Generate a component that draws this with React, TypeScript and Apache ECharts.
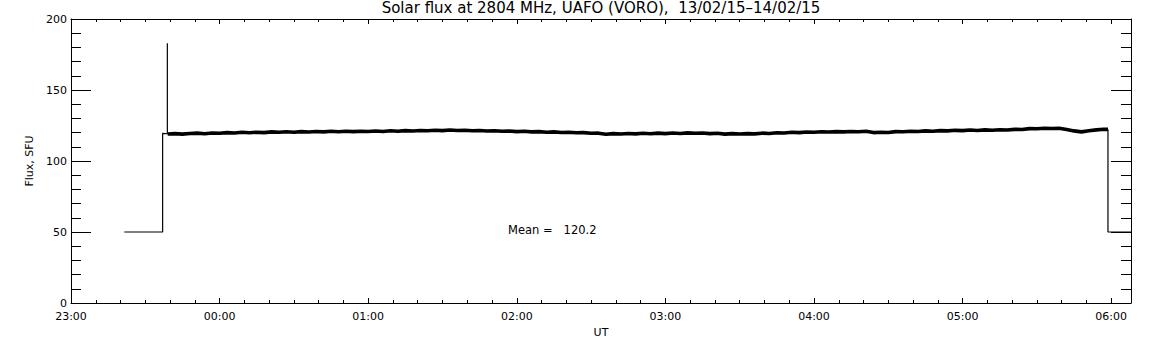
import React, { useEffect, useRef } from "react";
import * as echarts from "echarts";

const titleText = "Solar flux at 2804 MHz, UAFO (VORO),  13/02/15\u201314/02/15";
const meanText = "Mean =   120.2";
const xName = "UT";
const yName = "Flux, SFU";

// minutes after 23:00
const xMin = 0;
const xMax = 428;
const xMajorStep = 60;
const xMinorStep = 10;
const yTicks = [0, 50, 100, 150, 200];
const yMinorStep = 10;

// pre-signal baseline, jump and spike: [minute, SFU]
const leadTrace: [number, number][] = [
  [21.5, 50], [37, 50], [37, 119.5], [38.9, 119.2], [38.9, 183], [38.9, 119.0],
];

const signalTimes = [
  39, 42, 45, 48, 51, 54, 57, 60, 63, 66, 69, 72, 75, 78, 81, 84, 87, 90, 93, 96,
  99, 102, 105, 108, 111, 114, 117, 120, 123, 126, 129, 132, 135, 138, 141, 144, 147, 150, 153, 156,
  159, 162, 165, 168, 171, 174, 177, 180, 183, 186, 189, 192, 195, 198, 201, 204, 207, 210, 213, 216,
  219, 222, 225, 228, 231, 234, 237, 240, 243, 246, 249, 252, 255, 258, 261, 264, 267, 270, 273, 276,
  279, 282, 285, 288, 291, 294, 297, 300, 303, 306, 309, 312, 315, 318, 321, 324, 327, 330, 333, 336,
  339, 342, 345, 348, 351, 354, 357, 360, 363, 366, 369, 372, 375, 378, 381, 384, 387, 390, 393, 396,
  399, 402, 405, 408, 411, 414, 417, 418.7,
];
const signalValues = [
  119.0, 119.3, 118.9, 119.4, 119.6, 119.2, 119.7, 119.5, 120.0, 119.7, 120.2, 119.9, 120.3, 120.0, 120.5, 120.2, 120.6, 120.3, 120.7, 120.4,
  120.8, 120.5, 120.9, 120.6, 121.0, 120.7, 121.0, 120.8, 121.1, 120.8, 121.3, 121.0, 121.4, 121.1, 121.5, 121.3, 121.7, 121.4, 121.8, 121.5,
  121.7, 121.3, 121.5, 121.1, 121.3, 120.9, 121.1, 120.7, 120.9, 120.5, 120.7, 120.3, 120.5, 120.1, 120.3, 119.9, 120.0, 119.5, 119.6, 118.8,
  119.3, 119.0, 119.4, 119.1, 119.5, 119.2, 119.6, 119.3, 119.7, 119.4, 119.8, 119.5, 119.7, 119.3, 119.5, 118.9, 119.3, 119.0, 119.3, 119.1,
  119.6, 119.4, 119.9, 119.7, 120.2, 120.0, 120.4, 120.2, 120.6, 120.4, 120.7, 120.5, 120.8, 120.6, 120.9, 120.0, 120.3, 120.1, 120.7, 120.6,
  121.0, 120.8, 121.2, 121.0, 121.4, 121.2, 121.6, 121.4, 121.8, 121.5, 121.9, 121.7, 122.0, 121.8, 122.3, 122.2, 122.8, 122.7, 123.1, 122.9,
  123.1, 122.2, 121.2, 120.5, 121.3, 121.9, 122.4, 122.3,
];

const tailTrace: [number, number][] = [
  [418.7, 122.3], [418.7, 50], [428, 50],
];

const FONT = "DejaVu Sans";

function fmtTime(v: number): string {
  const total = (23 * 60 + v) % 1440;
  const h = Math.floor(total / 60);
  const m = Math.round(total % 60);
  return String(h).padStart(2, "0") + ":" + String(m).padStart(2, "0");
}

export default function App() {
  const ref = useRef<HTMLDivElement>(null);
  useEffect(() => {
    if (!ref.current) return;
    const chart = echarts.init(ref.current, null, { renderer: "svg" });
    const signal = signalTimes.map((t, i) => [t, signalValues[i]]);
    const black = { color: "#000", width: 1 };
    const xBase = {
      type: "value",
      min: xMin,
      max: xMax,
      splitLine: { show: false },
      axisLabel: { show: false },
    };
    const yBase = {
      type: "value",
      min: yTicks[0],
      max: yTicks[yTicks.length - 1],
      splitLine: { show: false },
      axisLabel: { show: false },
    };
    const xMajor = {
      ...xBase,
      interval: xMajorStep,
      axisLine: { show: true, onZero: false, lineStyle: black },
      axisTick: { show: true, inside: true, length: 5, lineStyle: black },
    };
    const xMinor = {
      ...xBase,
      interval: xMinorStep,
      axisLine: { show: false, onZero: false },
      axisTick: { show: true, inside: true, length: 3, lineStyle: black },
    };
    const yMajor = {
      ...yBase,
      interval: 50,
      axisLine: { show: true, onZero: false, lineStyle: black },
      axisTick: { show: true, inside: true, length: 20, lineStyle: black },
    };
    const yMinor = {
      ...yBase,
      interval: yMinorStep,
      axisLine: { show: false, onZero: false },
      axisTick: { show: true, inside: true, length: 10, lineStyle: black },
    };
    chart.setOption({
      animation: false,
      backgroundColor: "#fff",
      title: {
        text: titleText,
        left: 601,
        textAlign: "center",
        top: 0,
        padding: 0,
        textStyle: { fontFamily: FONT, fontSize: 15, fontWeight: "normal", color: "#000" },
      },
      grid: { left: 71, right: 21, top: 19, bottom: 42 },
      xAxis: [
        {
          ...xMajor,
          position: "bottom",
          name: xName,
          nameLocation: "middle",
          nameGap: 22,
          nameTextStyle: { fontFamily: FONT, fontSize: 11, color: "#000" },
          axisLabel: {
            show: true,
            formatter: (v: number) => fmtTime(v),
            fontFamily: FONT,
            fontSize: 11,
            color: "#000",
            margin: 8,
            showMaxLabel: false,
          },
        },
        { ...xMajor, position: "top" },
        { ...xMinor, position: "bottom" },
        { ...xMinor, position: "top" },
      ],
      yAxis: [
        {
          ...yMajor,
          position: "left",
          name: yName,
          nameLocation: "middle",
          nameGap: 32,
          nameTextStyle: { fontFamily: FONT, fontSize: 11, color: "#000" },
          axisLabel: { show: true, fontFamily: FONT, fontSize: 11, color: "#000", margin: 4 },
        },
        { ...yMajor, position: "right" },
        { ...yMinor, position: "left" },
        { ...yMinor, position: "right" },
      ],
      graphic: [
        {
          type: "text",
          left: 508,
          top: 224,
          style: { text: meanText, fontFamily: FONT, fontSize: 11.5, fill: "#000" },
        },
      ],
      series: [
        {
          type: "line",
          data: leadTrace,
          showSymbol: false,
          lineStyle: { color: "#000", width: 1.2 },
          xAxisIndex: 0,
          yAxisIndex: 0,
        },
        {
          type: "line",
          data: signal,
          showSymbol: false,
          lineStyle: { color: "#000", width: 3.6 },
          xAxisIndex: 0,
          yAxisIndex: 0,
        },
        {
          type: "line",
          data: tailTrace,
          showSymbol: false,
          lineStyle: { color: "#000", width: 1.2 },
          xAxisIndex: 0,
          yAxisIndex: 0,
        },
      ],
    });
    return () => chart.dispose();
  }, []);
  return (
    <div
      ref={ref}
      style={{ position: "absolute", left: 0, top: 0, width: 1152, height: 345 }}
    />
  );
}
